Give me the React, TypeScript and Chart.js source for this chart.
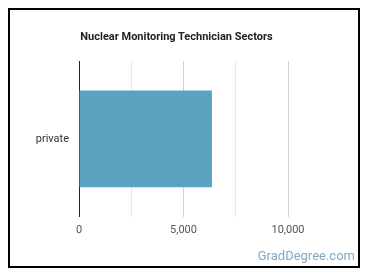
import React, { useEffect, useRef } from "react";
import { Chart, registerables } from "chart.js";

Chart.register(...registerables);

const categories = ["private"];
const values = [6360];
const xTicks = [0, 2500, 5000, 7500, 10000];
const titleText = "Nuclear Monitoring Technician Sectors";

export default function App() {
  const ref = useRef<HTMLCanvasElement | null>(null);

  useEffect(() => {
    if (!ref.current) return;
    const chart = new Chart(ref.current, {
      type: "bar",
      data: {
        labels: categories,
        datasets: [
          {
            data: values,
            backgroundColor: "#5ba2c1",
            borderWidth: 0,
            barPercentage: 0.62,
            categoryPercentage: 1,
          },
        ],
      },
      options: {
        indexAxis: "y",
        animation: false,
        responsive: false,
        maintainAspectRatio: false,
        layout: { padding: { left: 0, right: 70, top: 51, bottom: 22 } },
        plugins: {
          legend: { display: false },
          tooltip: { enabled: false },
          title: { display: false },
        },
        scales: {
          x: {
            min: xTicks[0],
            max: xTicks[xTicks.length - 1],
            afterBuildTicks: (scale: any) => {
              scale.ticks = xTicks.map((v) => ({ value: v }));
            },
            border: { display: false },
            grid: {
              drawTicks: false,
              color: (ctx: any) =>
                ctx.tick && ctx.tick.value % 5000 === 0 ? "#d2d2d2" : "#e8e8e8",
            },
            ticks: {
              padding: 7,
              color: "#555",
              font: { family: "Roboto", size: 11 },
              callback: (v: any) =>
                Number(v) % 5000 === 0 ? Number(v).toLocaleString("en-US") : "",
            },
          },
          y: {
            afterFit: (scale: any) => {
              scale.width = 69;
            },
            border: { display: true, color: "#222", width: 1 },
            grid: { display: false, drawTicks: false },
            ticks: {
              padding: 10,
              color: "#333",
              font: { family: "Roboto", size: 11 },
            },
          },
        },
      },
    });
    return () => chart.destroy();
  }, []);

  return (
    <div
      style={{
        position: "relative",
        boxSizing: "border-box",
        width: 352,
        height: 260,
        border: "2px solid #000",
        background: "#fff",
      }}
    >
      <canvas
        ref={ref}
        width={348}
        height={256}
        style={{ position: "absolute", left: 0, top: 0, width: 348, height: 256 }}
      />
      <div
        style={{
          position: "absolute",
          left: 0,
          width: 333,
          top: 20,
          textAlign: "center",
          fontFamily: "Roboto",
          fontWeight: "bold",
          fontSize: 11,
          lineHeight: "14px",
          color: "#222",
        }}
      >
        {titleText}
      </div>
      <div
        style={{
          position: "absolute",
          right: 3,
          top: 238,
          fontFamily: "Roboto",
          fontSize: 13,
          lineHeight: "15px",
          color: "#7eaac6",
        }}
      >
        GradDegree.com
      </div>
    </div>
  );
}
